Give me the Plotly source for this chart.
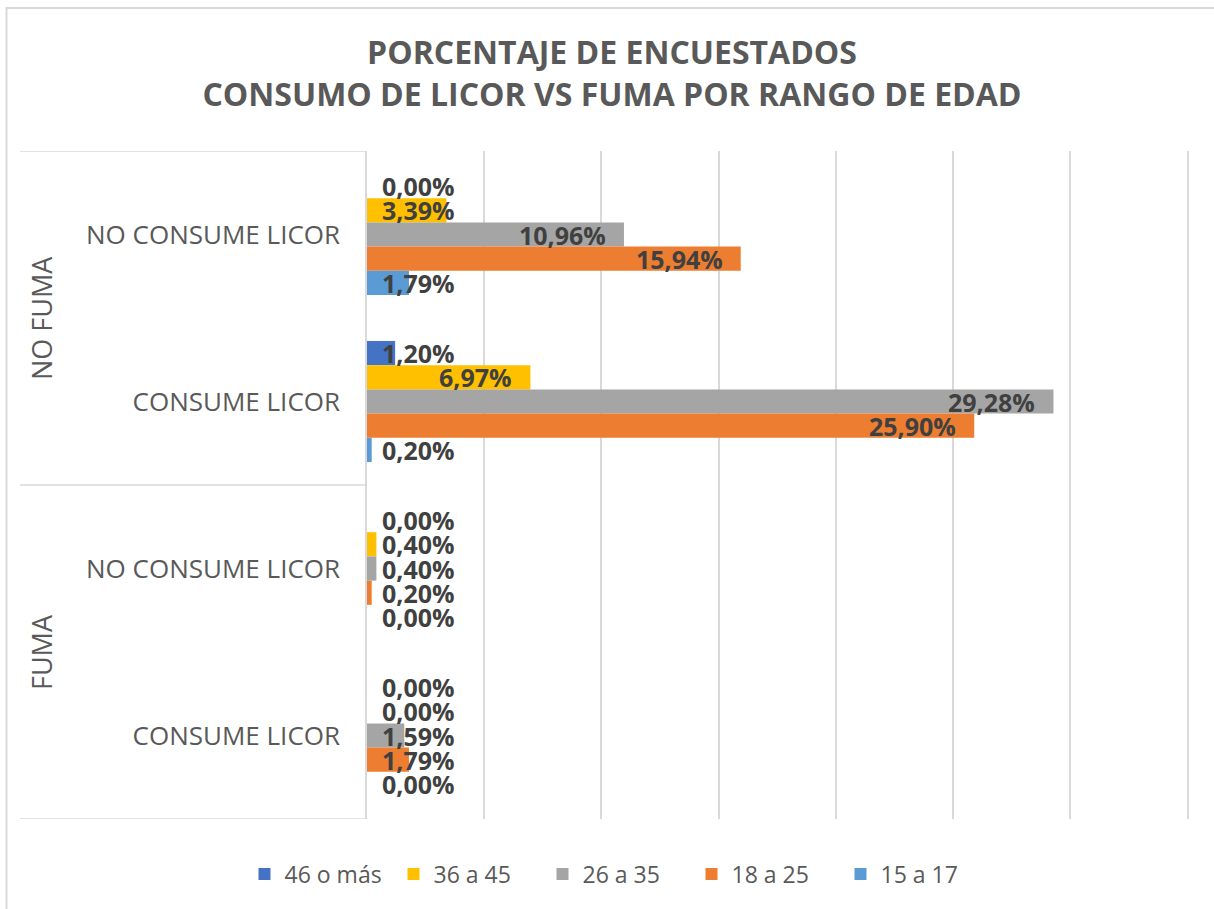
import plotly.graph_objects as go

# ---- data ----
group_labels = ["NO FUMA", "FUMA"]
categories = ["NO CONSUME LICOR", "CONSUME LICOR", "NO CONSUME LICOR", "CONSUME LICOR"]
cat_group = ["NO FUMA", "NO FUMA", "FUMA", "FUMA"]
series_names = ["46 o más", "36 a 45", "26 a 35", "18 a 25", "15 a 17"]
s_46_mas = [0.00, 1.20, 0.00, 0.00]
s_36_45 = [3.39, 6.97, 0.40, 0.00]
s_26_35 = [10.96, 29.28, 0.40, 1.59]
s_18_25 = [15.94, 25.90, 0.20, 1.79]
s_15_17 = [1.79, 0.20, 0.00, 0.00]
series_values = [s_46_mas, s_36_45, s_26_35, s_18_25, s_15_17]
colors = ["#4472C4", "#FFC000", "#A5A5A5", "#ED7D31", "#5B9BD5"]

W, H = 1214, 909
ML, MR, MT, MB = 367, 25, 151, 90
PW, PH = W - ML - MR, H - MT - MB
X_MAX = 35
BARGAP = 0.275
FONT = "Open Sans"
GRID = "#D9D9D9"

def px_x(p):  # pixel -> paper x
    return (p - ML) / PW

def px_y(p):  # pixel -> paper y
    return (H - MB - p) / PH

ypos = list(range(len(categories)))

fig = go.Figure()
for name, vals, col in zip(series_names, series_values, colors):
    fig.add_trace(go.Bar(
        y=ypos, x=vals, name=name, orientation="h",
        marker=dict(color=col, line=dict(width=0)),
        hoverinfo="x+name",
    ))

# data labels
n = len(series_names)
bw = (1 - BARGAP) / n
annotations = []
for i, vals in enumerate(series_values):
    off = -(1 - BARGAP) / 2 + (i + 0.5) * bw
    for j, v in enumerate(vals):
        txt = f"{v:.2f}%".replace(".", ",")
        if v >= 4.5:
            a = dict(x=v, xanchor="right", xshift=-16)
        else:
            a = dict(x=0, xanchor="left", xshift=13)
        a.update(y=ypos[j] + off, xref="x", yref="y", text=txt, showarrow=False,
                 yanchor="middle",
                 font=dict(family=FONT, size=25, color="#404040", weight="bold"))
        annotations.append(a)

# group labels (rotated)
for g in group_labels:
    idx = [k for k, c in enumerate(cat_group) if c == g]
    yc = (idx[0] + idx[-1]) / 2
    annotations.append(dict(x=px_x(41), y=yc, xref="paper", yref="y", text=g,
                            textangle=-90, showarrow=False, xanchor="center",
                            yanchor="middle",
                            font=dict(family=FONT, size=27, color="#595959")))

shapes = []
# separators between groups
for yb in [-0.5, 1.5, 3.5]:
    shapes.append(dict(type="line", xref="paper", yref="y", x0=px_x(20), x1=0,
                       y0=yb, y1=yb, line=dict(color=GRID, width=1.5)))
# outer chart border
shapes.append(dict(type="rect", xref="paper", yref="paper",
                   x0=px_x(6.5), x1=px_x(W + 10), y0=px_y(H + 10), y1=px_y(8),
                   line=dict(color=GRID, width=2), layer="below"))

fig.update_layout(
    width=W, height=H,
    margin=dict(l=ML, r=MR, t=MT, b=MB),
    paper_bgcolor="white", plot_bgcolor="white",
    barmode="group", bargap=BARGAP, bargroupgap=0,
    title=dict(
        text="<b>PORCENTAJE DE ENCUESTADOS</b><br><b>CONSUMO DE LICOR VS FUMA POR RANGO DE EDAD</b>",
        x=612 / W, xanchor="center", xref="container",
        y=1 - 64 / H, yanchor="top", yref="container",
        font=dict(family=FONT, size=32, color="#595959"),
    ),
    xaxis=dict(range=[0, X_MAX + 0.06], dtick=5, showticklabels=False, ticks="",
               showgrid=True, gridcolor=GRID, gridwidth=1.5, zeroline=False,
               showline=False, fixedrange=True),
    yaxis=dict(tickvals=ypos, ticktext=categories, range=[3.5, -0.5],
               showgrid=False, zeroline=False, showline=True, linecolor=GRID,
               linewidth=1.5, ticks="", ticklabelstandoff=20,
               tickfont=dict(family=FONT, size=26, color="#595959"),
               fixedrange=True),
    legend=dict(orientation="h", xref="container", yref="container",
                x=617 / W, xanchor="center", y=1 - 874 / H, yanchor="middle",
                font=dict(family=FONT, size=23, color="#595959"),
                entrywidth=104, entrywidthmode="pixels",
                traceorder="normal"),
    annotations=annotations,
    shapes=shapes,
    showlegend=True,
)

fig.write_html(
    "out.html",
    config={"displayModeBar": False},
    post_script="document.body.style.margin='0';document.body.style.overflow='hidden';",
)
